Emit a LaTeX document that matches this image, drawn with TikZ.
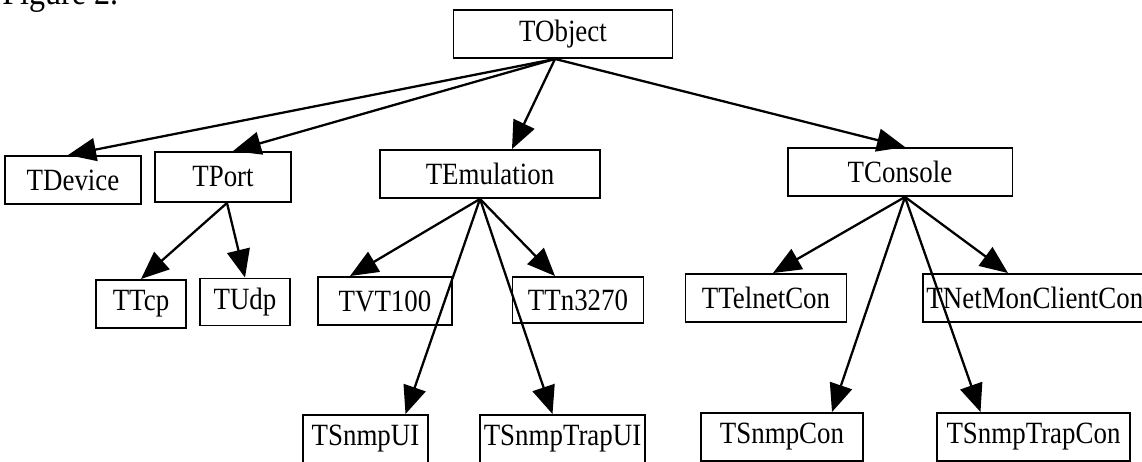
\documentclass[tikz,border=0pt]{standalone}
\usepackage{fontspec}
\setmainfont{Liberation Serif}[FakeStretch=0.87]
\usetikzlibrary{arrows.meta}
\tikzset{
  cls box/.style={
    rectangle, draw=black, line width=1.1pt,
    minimum height=0.96cm, inner sep=1pt,
    font=\fontsize{17.6}{20}\selectfont
  },
  cls arrow/.style={
    -{Triangle[length=0.56cm, width=0.46cm]}, line width=1.3pt, draw=black
  }
}

\begin{document}
\begin{tikzpicture}[x=0.02cm, y=-0.02cm]
  \useasboundingbox (0,0) rectangle (1142,462);

  \node (cap) [anchor=base west, inner sep=0pt, font=\fontsize{21}{24}\selectfont] at (2,5) {Figure 2.};

  % root and first level
  \node (tobj) [cls box, minimum width=4.38cm] at (563,34) {TObject};
  \node (tdev) [cls box, minimum width=2.72cm] at (73,180) {TDevice};
  \node (tport) [cls box, minimum width=2.72cm, minimum height=1cm] at (223,177) {TPort};
  \node (temu) [cls box, minimum width=4.4cm] at (490,174) {TEmulation};
  \node (tcon) [cls box, minimum width=4.5cm] at (900,172) {TConsole};

  % second level
  \node (ttcp) [cls box, minimum width=1.8cm] at (141,304) {TTcp};
  \node (tudp) [cls box, minimum width=1.8cm, minimum height=0.94cm] at (245,302) {TUdp};
  \node (tvt) [cls box, minimum width=2.68cm] at (385,301) {TVT100};
  \node (ttn) [cls box, minimum width=2.62cm, minimum height=0.92cm] at (578,300) {TTn3270};
  \node (ttel) [cls box, minimum width=3.22cm] at (766,298) {TTelnetCon};
  \node (tnet) [cls box, anchor=west, inner xsep=2pt] at (922,298) {TNetMonClientCon};

  % third level
  \node (tsui) [cls box, minimum width=2.5cm] at (365.5,439) {TSnmpUI};
  \node (tstui) [cls box, minimum width=3.3cm] at (562.5,439) {TSnmpTrapUI};
  \node (tscon) [cls box, minimum width=3.24cm] at (782,437) {TSnmpCon};
  \node (tstcon) [cls box, minimum width=3.86cm] at (1033.5,437) {TSnmpTrapCon};

  \draw [cls arrow] ([xshift=-0.16cm]tobj.south) -- ([xshift=-0.1cm]tdev.north);
  \draw [cls arrow] ([xshift=-0.16cm]tobj.south) -- ([xshift=0.2cm]tport.north);
  \draw [cls arrow] ([xshift=-0.16cm]tobj.south) -- ([xshift=0.44cm]temu.north);
  \draw [cls arrow] ([xshift=-0.16cm]tobj.south) -- ([xshift=0.1cm]tcon.north);

  \draw [cls arrow] ([xshift=0.08cm]tport.south) -- (ttcp.north);
  \draw [cls arrow] ([xshift=0.08cm]tport.south) -- (tudp.north);

  \draw [cls arrow] ([xshift=-0.2cm]temu.south) -- ([xshift=-0.7cm]tvt.north);
  \draw [cls arrow] ([xshift=-0.2cm]temu.south) -- ([xshift=-0.46cm]ttn.north);
  \draw [cls arrow] ([xshift=-0.2cm]temu.south) -- ([xshift=0.8cm]tsui.north);
  \draw [cls arrow] ([xshift=-0.2cm]temu.south) -- ([xshift=-0.2cm]tstui.north);

  \draw [cls arrow] ([xshift=0.1cm]tcon.south) -- ([xshift=0.14cm]ttel.north);
  \draw [cls arrow] ([xshift=0.1cm]tcon.south) -- ([xshift=1.72cm]tnet.north west);
  \draw [cls arrow] ([xshift=0.1cm]tcon.south) -- ([xshift=1cm]tscon.north);
  \draw [cls arrow] ([xshift=0.1cm]tcon.south) -- ([xshift=-1.06cm]tstcon.north);
\end{tikzpicture}
\end{document}
